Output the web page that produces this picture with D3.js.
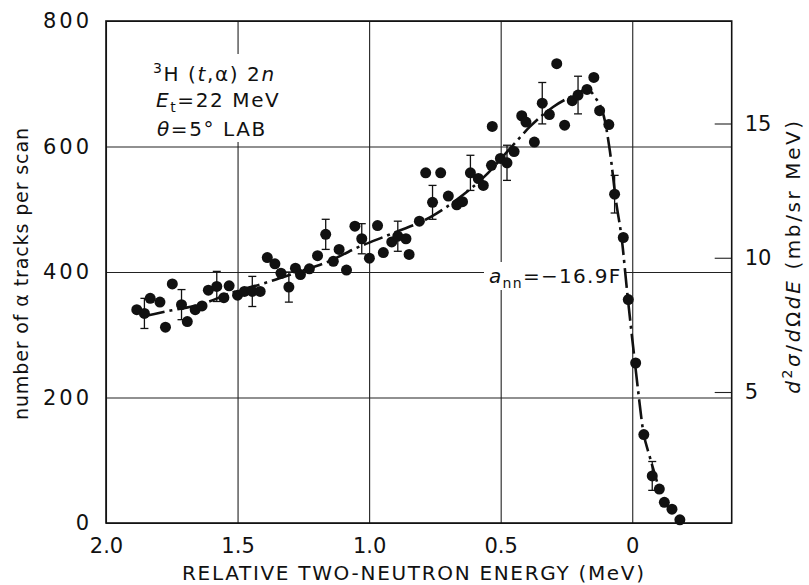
<!DOCTYPE html>
<html>
<head>
<meta charset="utf-8">
<script src="https://cdn.jsdelivr.net/npm/d3@7"></script>
<style>
  body { margin: 0; background: #fff; }
  text { font-family: "DejaVu Sans", sans-serif; fill: #111; }
</style>
</head>
<body>
<div id="chart"></div>
<script>
// measured points: relative two-neutron energy (MeV), counts per scan, error (0 = no bar)
var energy = [1.883, 1.854, 1.832, 1.795, 1.774, 1.748, 1.713, 1.691, 1.661, 1.635,
              1.611, 1.579, 1.552, 1.532, 1.500, 1.474, 1.444, 1.414, 1.387, 1.358,
              1.335, 1.305, 1.280, 1.261, 1.227, 1.196, 1.165, 1.136, 1.114, 1.086,
              1.054, 1.028, 0.999, 0.968, 0.946, 0.914, 0.891, 0.860, 0.848, 0.809,
              0.785, 0.728, 0.759, 0.699, 0.667, 0.645, 0.615, 0.585, 0.566, 0.532,
              0.535, 0.501, 0.476, 0.449, 0.420, 0.404, 0.372, 0.342, 0.315, 0.287,
              0.257, 0.228, 0.206, 0.172, 0.146, 0.124, 0.089, 0.067, 0.034, 0.015,
              -0.013, -0.044, -0.076, -0.103, -0.122, -0.151, -0.181];
var counts = [340, 334, 358, 352, 312, 381, 348, 321, 340, 346,
              371, 377, 359, 378, 363, 369, 369, 369, 423, 413,
              398, 376, 406, 396, 405, 426, 460, 417, 436, 403,
              473, 453, 422, 474, 431, 448, 457, 453, 428, 481,
              558, 558, 511, 521, 507, 512, 558, 549, 538, 632,
              570, 581, 574, 592, 649, 639, 607, 669, 651, 732,
              634, 673, 682, 691, 710, 657, 635, 524, 455, 356,
              255, 141, 75, 54, 33, 22, 5];
var errs = [0, 24, 0, 0, 0, 0, 24, 0, 0, 0,
            0, 24, 0, 0, 0, 0, 24, 0, 0, 0,
            0, 24, 0, 0, 0, 0, 24, 0, 0, 0,
            0, 24, 0, 0, 0, 0, 24, 0, 0, 0,
            0, 0, 27, 0, 0, 0, 28, 0, 0, 0,
            0, 0, 28, 0, 0, 0, 0, 33, 0, 0,
            0, 0, 30, 0, 0, 0, 0, 30, 0, 0,
            0, 0, 23, 0, 0, 0, 0];

// fitted curve (a_nn = -16.9 F)
var curveE = [1.852, 1.749, 1.635, 1.529, 1.384, 1.263, 1.164, 1.050, 0.921, 0.769,
              0.655, 0.567, 0.445, 0.388, 0.301, 0.210, 0.172, 0.142, 0.104, 0.085,
              0.062, 0.039, 0.020, -0.006, -0.022, -0.041, -0.067, -0.094];
var curveC = [330, 339, 349, 366, 384, 401, 415, 438, 460, 487,
              519, 550, 606, 632, 663, 684, 691, 679, 641, 593,
              514, 450, 371, 271, 212, 148, 105, 66];

var xTicks = [2.0, 1.5, 1.0, 0.5, 0];
var yTicks = [0, 200, 400, 600, 800];
var rightTicks = [5, 10, 15];

var svg = d3.select("#chart")
    .append("svg")
    .attr("width", 809)
    .attr("height", 585);

// plot box in pixels
var box = {left: 106, right: 731.7, top: 21, bottom: 523};

var x = d3.scaleLinear().domain([2.0, -0.378]).range([box.left, box.right]);
var y = d3.scaleLinear().domain([0, 800]).range([box.bottom, box.top]);
// cross-section scale on the right
var y2 = d3.scaleLinear().domain([5, 15]).range([392, 123.5]);

// x grid + labels
var gx = svg.append("g")
    .attr("transform", "translate(0," + box.bottom + ")")
    .call(d3.axisBottom(x).tickValues(xTicks).tickSize(-(box.bottom - box.top)).tickPadding(15)
        .tickFormat(function (d) { return d === 0 ? "0" : d.toFixed(1); }));
gx.select(".domain").remove();
gx.selectAll("line").attr("stroke", "#222").attr("stroke-width", 1.1);
gx.selectAll("text").style("font-size", "21px").attr("fill", "#111");

// y grid + labels
var gy = svg.append("g")
    .attr("transform", "translate(" + box.left + ",0)")
    .call(d3.axisLeft(y).tickValues(yTicks).tickSize(-(box.right - box.left)).tickPadding(14));
gy.select(".domain").remove();
gy.selectAll("line").attr("stroke", "#222").attr("stroke-width", 1.1);
gy.selectAll("text").style("font-size", "21px").style("letter-spacing", "3px").attr("fill", "#111");

// right axis, ticks pointing inward
var gr = svg.append("g")
    .attr("transform", "translate(" + box.right + ",0)")
    .call(d3.axisRight(y2).tickValues(rightTicks).tickSize(-17).tickPadding(13));
gr.select(".domain").remove();
gr.selectAll("line").attr("stroke", "#222").attr("stroke-width", 1.1);
gr.selectAll("text").style("font-size", "21px").attr("fill", "#111");

// frame
svg.append("rect")
    .attr("x", box.left).attr("y", box.top)
    .attr("width", box.right - box.left).attr("height", box.bottom - box.top)
    .attr("fill", "none").attr("stroke", "#111").attr("stroke-width", 1.6);

// white patches under the labels (the grid is broken there)
svg.append("rect").attr("x", 148).attr("y", 54).attr("width", 140).attr("height", 88).attr("fill", "#fff");
svg.append("rect").attr("x", 484).attr("y", 262).attr("width", 140).attr("height", 28).attr("fill", "#fff");

// helper for text with italics / super / subscripts
function rich(sel, parts) {
    var shift = 0;
    parts.forEach(function (p) {
        var s = p.sup ? -8 : (p.sub ? 5 : 0);
        var t = sel.append("tspan").text(p.t).attr("dy", s - shift);
        shift = s;
        if (p.i) t.style("font-style", "italic");
        if (p.sup || p.sub) t.style("font-size", "14px");
    });
}

// fitted curve
var line = d3.line()
    .x(function (d) { return x(d[0]); })
    .y(function (d) { return y(d[1]); })
    .curve(d3.curveMonotoneX);

svg.append("path")
    .datum(d3.zip(curveE, curveC))
    .attr("d", line)
    .attr("fill", "none")
    .attr("stroke", "#111")
    .attr("stroke-width", 2.6)
    .attr("stroke-dasharray", "20,5,3,5");

// error bars
var pts = d3.range(energy.length).map(function (i) {
    return {e: energy[i], c: counts[i], err: errs[i]};
});
var eb = svg.append("g").attr("stroke", "#111").attr("stroke-width", 1.3);
pts.filter(function (d) { return d.err > 0; }).forEach(function (d) {
    var cx = x(d.e);
    eb.append("line").attr("x1", cx).attr("x2", cx).attr("y1", y(d.c - d.err)).attr("y2", y(d.c + d.err));
    eb.append("line").attr("x1", cx - 4).attr("x2", cx + 4).attr("y1", y(d.c - d.err)).attr("y2", y(d.c - d.err));
    eb.append("line").attr("x1", cx - 4).attr("x2", cx + 4).attr("y1", y(d.c + d.err)).attr("y2", y(d.c + d.err));
});

// data points
svg.append("g").selectAll("circle")
    .data(pts)
    .join("circle")
    .attr("cx", function (d) { return x(d.e); })
    .attr("cy", function (d) { return y(d.c); })
    .attr("r", 5.5)
    .attr("fill", "#111");

// reaction annotation
var ann = svg.append("g").style("font-size", "20px").style("letter-spacing", "1.6px");
rich(ann.append("text").attr("x", 153).attr("y", 81),
    [{t: "3", sup: true}, {t: "H (" }, {t: "t", i: true}, {t: ",α) 2"}, {t: "n", i: true}]);
rich(ann.append("text").attr("x", 156).attr("y", 107),
    [{t: "E", i: true}, {t: "t", sub: true}, {t: "=22 MeV"}]);
rich(ann.append("text").attr("x", 157).attr("y", 136),
    [{t: "θ", i: true}, {t: "=5° LAB"}]);

rich(svg.append("text").attr("x", 489).attr("y", 283).style("font-size", "20px").style("letter-spacing", "1.3px"),
    [{t: "a", i: true}, {t: "nn", sub: true}, {t: "=−16.9F"}]);

// axis titles
svg.append("text")
    .attr("x", 413).attr("y", 580)
    .attr("text-anchor", "middle")
    .style("font-size", "20px")
    .attr("textLength", 462)
    .attr("lengthAdjust", "spacing")
    .text("RELATIVE TWO-NEUTRON ENERGY (MeV)");

svg.append("text")
    .attr("transform", "translate(21,274) rotate(-90)")
    .attr("y", 7)
    .attr("text-anchor", "middle")
    .style("font-size", "19px")
    .attr("textLength", 292)
    .attr("lengthAdjust", "spacing")
    .text("number of α tracks per scan");

var rt = svg.append("text")
    .attr("transform", "translate(793,256) rotate(-90)")
    .attr("y", 7)
    .attr("text-anchor", "middle")
    .style("font-size", "20px")
    .style("letter-spacing", "2.6px");
rich(rt, [{t: "d", i: true}, {t: "2", sup: true}, {t: "σ", i: true}, {t: "/"}, {t: "d", i: true},
    {t: "Ω"}, {t: "dE", i: true}, {t: " (mb/sr  MeV)"}]);
</script>
</body>
</html>
